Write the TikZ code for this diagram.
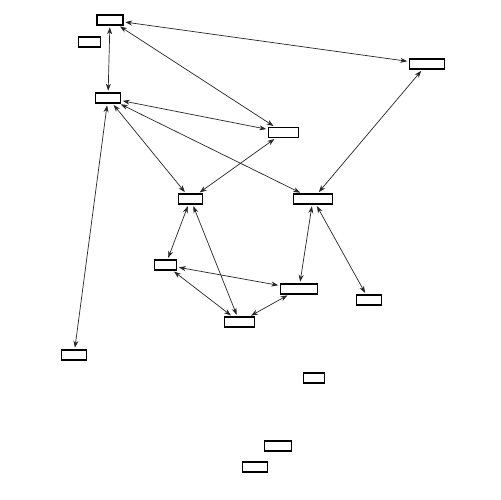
\documentclass[tikz,border=0pt]{standalone}
\usetikzlibrary{arrows.meta}

\begin{document}
\begin{tikzpicture}[
    x=0.02cm, y=-0.02cm,
    box/.style = {rectangle, draw=black, line width=0.6pt, fill=white,
                  minimum height=0.2cm, inner sep=0pt},
    link/.style = {{Stealth[length=1.4mm, width=1mm]}-{Stealth[length=1.4mm, width=1mm]},
                   line width=0.4pt, black!85, shorten <=1pt, shorten >=1pt},
]
\useasboundingbox (0,0) rectangle (500,500);

%% ---- Boxes ----
\node[box, minimum width=0.52cm] (b1)  at (110, 20)  {};
\node[box, minimum width=0.44cm] (b2)  at (89.5, 42) {};
\node[box, minimum width=0.50cm] (b3)  at (108, 98)  {};
\node[box, minimum width=0.70cm] (b4)  at (427, 64)  {};
\node[box, minimum width=0.60cm] (b5)  at (283.5, 132.5) {};
\node[box, minimum width=0.78cm] (b6)  at (313, 199) {};
\node[box, minimum width=0.48cm] (b7)  at (190.5, 199) {};
\node[box, minimum width=0.44cm] (b8)  at (165.5, 265) {};
\node[box, minimum width=0.74cm] (b9)  at (299, 289) {};
\node[box, minimum width=0.60cm] (b10) at (239.5, 322) {};
\node[box, minimum width=0.50cm] (b11) at (74, 355)  {};
\node[box, minimum width=0.50cm] (b12) at (369, 300) {};
\node[box, minimum width=0.42cm] (b13) at (314, 378) {};
\node[box, minimum width=0.54cm] (b14) at (278, 446) {};
\node[box, minimum width=0.50cm] (b15) at (255, 467) {};

%% ---- Links ----
\draw[link] (b1) -- (b4);
\draw[link] (b1) -- (b3);
\draw[link] (b1) -- (b5);
\draw[link] (b3) -- (b5);
\draw[link] (b3) -- (b6);
\draw[link] (b3) -- (b7);
\draw[link] (b3) -- (b11);
\draw[link] (b5) -- (b7);
\draw[link] (b4) -- (b6);
\draw[link] (b7) -- (b8);
\draw[link] (b7) -- (b10);
\draw[link] (b8) -- (b9);
\draw[link] (b8) -- (b10);
\draw[link] (b9) -- (b10);
\draw[link] (b6) -- (b9);
\draw[link] (b6) -- (b12);

\end{tikzpicture}
\end{document}
